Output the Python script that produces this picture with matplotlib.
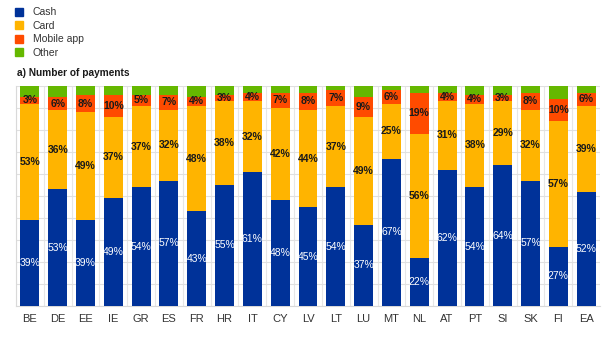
# Stacked share of payments by instrument, per country
import numpy as np
import matplotlib.pyplot as plt
from matplotlib.patches import Patch

plt.rcParams['font.family'] = ['Liberation Sans', 'DejaVu Sans']

# Data
countries = ["BE", "DE", "EE", "IE", "GR", "ES", "FR", "HR", "IT", "CY", "LV",
             "LT", "LU", "MT", "NL", "AT", "PT", "SI", "SK", "FI", "EA"]
cash = [39, 53, 39, 49, 54, 57, 43, 55, 61, 48, 45, 54, 37, 67, 22, 62, 54, 64, 57, 27, 52]
card = [53, 36, 49, 37, 37, 32, 48, 38, 32, 42, 44, 37, 49, 25, 56, 31, 38, 29, 32, 57, 39]
mobile = [3, 6, 8, 10, 5, 7, 4, 3, 4, 7, 8, 7, 9, 6, 19, 4, 4, 3, 8, 10, 6]
other = [5, 5, 4, 4, 4, 4, 5, 4, 3, 3, 3, 2, 5, 2, 3, 3, 4, 4, 3, 6, 3]

series = ["Cash", "Card", "Mobile app", "Other"]
colors = ["#003299", "#FFB400", "#FF4B00", "#65B800"]

fig = plt.figure(figsize=(6.02, 3.40), dpi=100)
ax = fig.add_axes([16/602, 1 - 306/340, 584/602, 220/340])

x = np.arange(len(countries))
w = 0.68
bottom = np.zeros(len(countries))
for vals, col in zip([cash, card, mobile, other], colors):
    ax.bar(x, vals, w, bottom=bottom, color=col, zorder=3)
    bottom += np.array(vals)

# labels
for i in range(len(countries)):
    ax.text(x[i], cash[i] / 2, f"{cash[i]}%", ha='center', va='center',
            color='white', fontsize=7.5, zorder=4)
    ax.text(x[i], cash[i] + card[i] / 2, f"{card[i]}%", ha='center', va='center',
            color='#1a1a1a', fontsize=7.5, fontweight='bold', zorder=4)
    ax.text(x[i], cash[i] + card[i] + mobile[i] / 2, f"{mobile[i]}%", ha='center',
            va='center', color='#1a1a1a', fontsize=7.5, fontweight='bold', zorder=4)

ax.set_xlim(-0.5, len(countries) - 0.5)
ax.set_ylim(0, 100)
ax.set_xticks(x)
ax.set_xticklabels(countries, fontsize=8, color='#333333')
ax.set_xticks(np.arange(-0.5, len(countries), 1), minor=True)
ax.set_yticks(np.arange(0, 101, 10))
ax.set_yticklabels([])
ax.tick_params(axis='both', which='both', length=0, pad=6)
ax.grid(axis='y', which='major', color='#e0e0e0', linewidth=0.8, zorder=0)
ax.grid(axis='x', which='minor', color='#e6e6e6', linewidth=0.8, zorder=0)
for s in ['top', 'right']:
    ax.spines[s].set_visible(False)
for s in ['left', 'bottom']:
    ax.spines[s].set_color('#d9d9d9')

handles = [Patch(color=c, label=l) for c, l in zip(colors, series)]
fig.legend(handles=handles, loc='upper left', bbox_to_anchor=(0.01, 1.006),
           frameon=False, fontsize=7.5, handlelength=0.77, handleheight=0.77,
           labelspacing=0.34, handletextpad=0.9, labelcolor='#333333')

fig.text(17/602, 1 - 73/340, "a) Number of payments", fontsize=7.3,
         fontweight='bold', va='center', color='#1a1a1a')

fig.savefig("out.png", dpi=100)
